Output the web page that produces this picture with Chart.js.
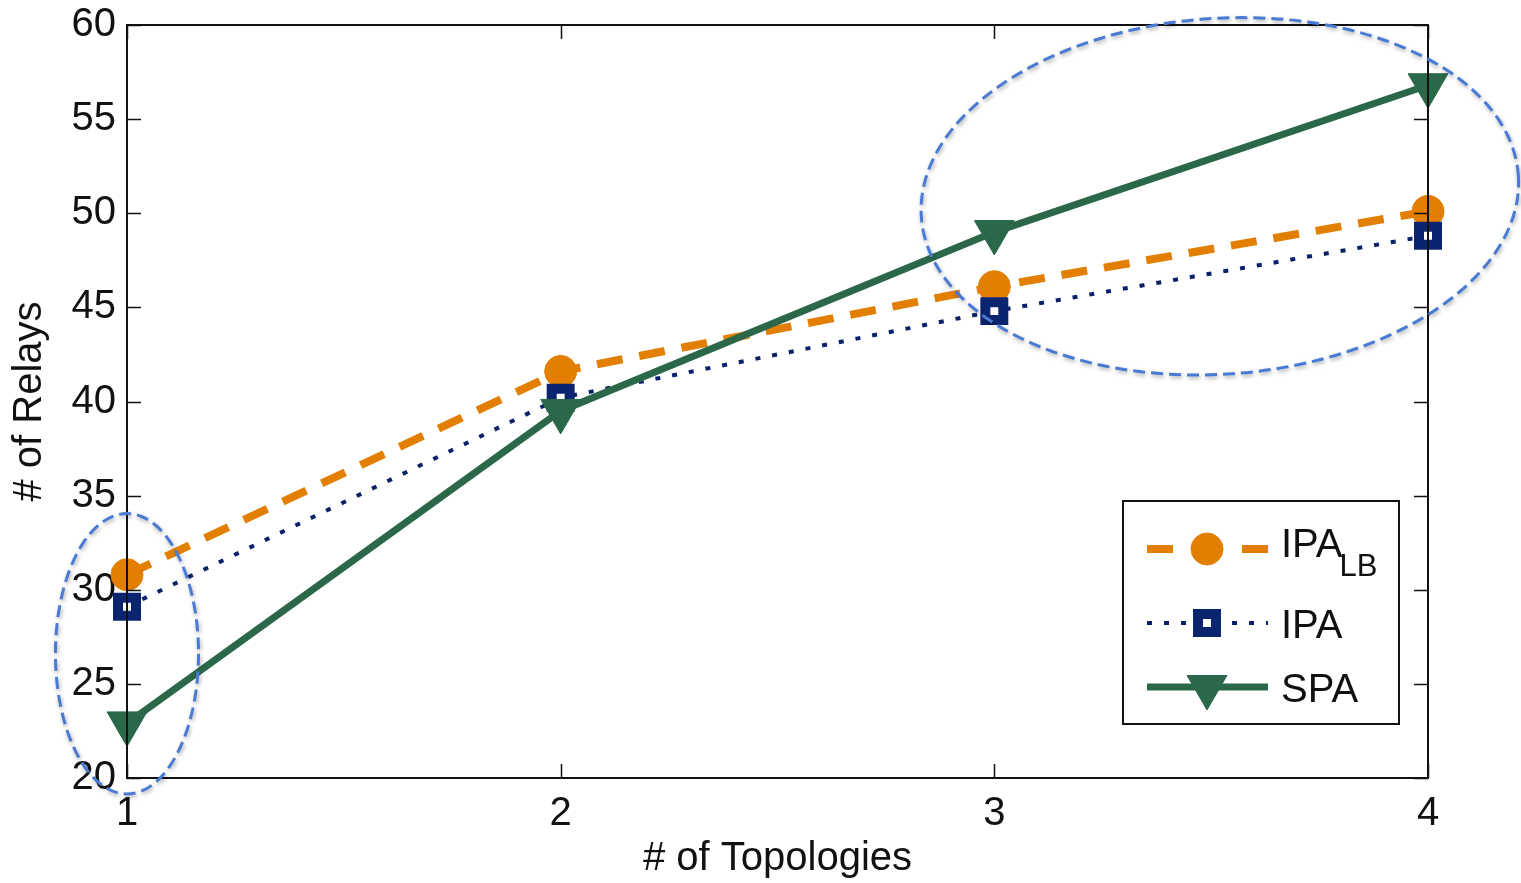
<!DOCTYPE html>
<html>
<head>
<meta charset="utf-8">
<script src="https://cdn.jsdelivr.net/npm/chart.js@4.4.0/dist/chart.umd.min.js"></script>
<style>
  html, body { margin: 0; padding: 0; background: #fff; }
  #wrap { width: 1521px; height: 883px; }
</style>
</head>
<body>
<div id="wrap"><canvas id="relayChart" width="1521" height="883"></canvas></div>
<script>
/* --------------------------------------
   DATA
-------------------------------------- */
const topologies = ["1", "2", "3", "4"];
const ipaLb = [30.8, 41.6, 46.1, 50.1];
const ipa = [29.1, 40.2, 44.8, 48.8];
const spa = [22.9, 39.5, 49.0, 56.8];
const yTicks = [20, 25, 30, 35, 40, 45, 50, 55, 60];

// highlighted regions (centre in data units, radii in data units)
const highlightX = [1, 3.52];
const highlightY = [26.6, 50.9];
const highlightRx = [0.165, 0.69];
const highlightRy = [7.45, 9.45];
const highlightTilt = [0, -0.07];

const FONT = "'Liberation Sans', Arial, sans-serif";

/* --------------------------------------
   FRAME + INWARD TICKS
-------------------------------------- */
const framePlugin = {
  id: "frame",
  afterDatasetsDraw(chart) {
    const { ctx, chartArea: a, scales } = chart;
    ctx.save();
    ctx.strokeStyle = "#111";
    ctx.lineWidth = 2;
    ctx.strokeRect(a.left, a.top, a.right - a.left, a.bottom - a.top);
    const len = 14;
    ctx.beginPath();
    yTicks.forEach((v) => {
      const y = Math.round(scales.y.getPixelForValue(v)) + 0.5;
      ctx.moveTo(a.left, y); ctx.lineTo(a.left + len, y);
      ctx.moveTo(a.right, y); ctx.lineTo(a.right - len, y);
    });
    topologies.forEach((t, i) => {
      const x = Math.round(scales.x.getPixelForValue(i)) + 0.5;
      ctx.moveTo(x, a.bottom); ctx.lineTo(x, a.bottom - len);
      ctx.moveTo(x, a.top); ctx.lineTo(x, a.top + len);
    });
    ctx.lineWidth = 1.5;
    ctx.stroke();
    ctx.restore();
  },
};

/* --------------------------------------
   LEGEND BOX (with subscript)
-------------------------------------- */
const legendPlugin = {
  id: "boxLegend",
  afterDraw(chart) {
    const ctx = chart.ctx;
    const box = { x: 1123, y: 501, w: 276, h: 223 };
    const rows = [549, 623, 687];
    ctx.save();
    ctx.fillStyle = "#fff";
    ctx.fillRect(box.x, box.y, box.w, box.h);
    ctx.strokeStyle = "#111";
    ctx.lineWidth = 2;
    ctx.strokeRect(box.x, box.y, box.w, box.h);

    chart.data.datasets.forEach((ds, i) => {
      const y = rows[i];
      ctx.save();
      ctx.strokeStyle = ds.borderColor;
      ctx.lineWidth = ds.borderWidth;
      ctx.setLineDash(ds.legendDash || ds.borderDash || []);
      ctx.beginPath();
      ctx.moveTo(1147, y);
      ctx.lineTo(1268, y);
      ctx.stroke();
      ctx.restore();

      ctx.save();
      ctx.fillStyle = ds.pointBackgroundColor;
      ctx.strokeStyle = ds.pointBorderColor;
      ctx.lineWidth = ds.pointBorderWidth;
      Chart.helpers.drawPoint(ctx, {
        pointStyle: ds.pointStyle,
        rotation: ds.pointRotation || 0,
        radius: ds.pointRadius,
        borderWidth: ds.pointBorderWidth,
      }, 1207, y);
      ctx.restore();
    });

    ctx.fillStyle = "#111";
    ctx.textBaseline = "alphabetic";
    ctx.textAlign = "left";
    ctx.font = "40px " + FONT;
    ctx.fillText("IPA", 1281, 557);
    const w = ctx.measureText("IPA").width;
    ctx.font = "31px " + FONT;
    ctx.fillText("LB", 1281 + w - 3, 576);
    ctx.font = "40px " + FONT;
    ctx.fillText("IPA", 1281, 638);
    ctx.fillText("SPA", 1281, 702);
    ctx.restore();
  },
};

/* --------------------------------------
   DASHED HIGHLIGHT ELLIPSES
-------------------------------------- */
const ellipsePlugin = {
  id: "ellipses",
  afterDraw(chart) {
    const { ctx, scales } = chart;
    const xs = scales.x, ys = scales.y;
    const pxPerX = xs.getPixelForValue(1) - xs.getPixelForValue(0);
    const pxPerY = ys.getPixelForValue(0) - ys.getPixelForValue(1);
    ctx.save();
    ctx.strokeStyle = "#4a7bd4";
    ctx.lineWidth = 3;
    ctx.setLineDash([12, 6]);
    ctx.shadowColor = "rgba(0,0,0,0.35)";
    ctx.shadowBlur = 4;
    ctx.shadowOffsetX = 1;
    ctx.shadowOffsetY = 2;
    highlightX.forEach((cx, i) => {
      const px = xs.getPixelForValue(cx - 1);
      const py = ys.getPixelForValue(highlightY[i]);
      ctx.beginPath();
      ctx.ellipse(px, py, highlightRx[i] * pxPerX, highlightRy[i] * pxPerY,
        highlightTilt[i], 0, Math.PI * 2);
      ctx.stroke();
    });
    ctx.restore();
  },
};

/* --------------------------------------
   CHART
-------------------------------------- */
function createRelayChart() {
  const ctx = document.getElementById("relayChart");

  new Chart(ctx, {
    type: "line",
    data: {
      labels: topologies,
      datasets: [
        {
          label: "IPA_LB",
          data: ipaLb,
          borderColor: "#e27f00",
          borderWidth: 8,
          borderDash: [26, 17],
          legendDash: [26, 69],
          pointStyle: "circle",
          pointRadius: 16,
          pointBackgroundColor: "#e27f00",
          pointBorderColor: "#e27f00",
          pointBorderWidth: 1,
          order: 3,
        },
        {
          label: "IPA",
          data: ipa,
          borderColor: "#0a2068",
          borderWidth: 4,
          borderDash: [5, 12],
          pointStyle: "rect",
          pointRadius: 12.7,
          pointBackgroundColor: "#ffffff",
          pointBorderColor: "#0b2470",
          pointBorderWidth: 10,
          order: 2,
        },
        {
          label: "SPA",
          data: spa,
          borderColor: "#2b6849",
          borderWidth: 7,
          pointStyle: "triangle",
          pointRotation: 180,
          pointRadius: 23,
          pointBackgroundColor: "#2b6849",
          pointBorderColor: "#2b6849",
          pointBorderWidth: 1,
          order: 1,
        },
      ],
    },
    options: {
      responsive: false,
      animation: false,
      events: [],
      layout: { padding: { top: 25, right: 93, left: 0, bottom: 0 } },
      plugins: { legend: { display: false }, tooltip: { enabled: false } },
      elements: { line: { tension: 0 } },
      scales: {
        x: {
          type: "category",
          offset: false,
          grid: { display: false, drawTicks: false },
          border: { display: false },
          ticks: { color: "#111", font: { family: FONT, size: 40 }, padding: 12 },
          title: {
            display: true,
            text: "# of Topologies",
            color: "#111",
            font: { family: FONT, size: 40 },
            padding: { top: 5, bottom: 0 },
          },
          afterFit: (s) => { s.height = 105; s.paddingLeft = 0; s.paddingRight = 0; },
        },
        y: {
          min: 20,
          max: 60,
          afterBuildTicks: (s) => { s.ticks = yTicks.map((v) => ({ value: v })); },
          grid: { display: false, drawTicks: false },
          border: { display: false },
          ticks: { color: "#111", font: { family: FONT, size: 40 }, padding: 11 },
          title: {
            display: true,
            text: "# of Relays",
            color: "#111",
            font: { family: FONT, size: 40 },
            padding: { top: 6, bottom: 0 },
          },
          afterFit: (s) => { s.width = 127; s.paddingTop = 0; s.paddingBottom = 0; },
        },
      },
    },
    plugins: [framePlugin, ellipsePlugin, legendPlugin],
  });
}

document.addEventListener("DOMContentLoaded", createRelayChart);
</script>
</body>
</html>
